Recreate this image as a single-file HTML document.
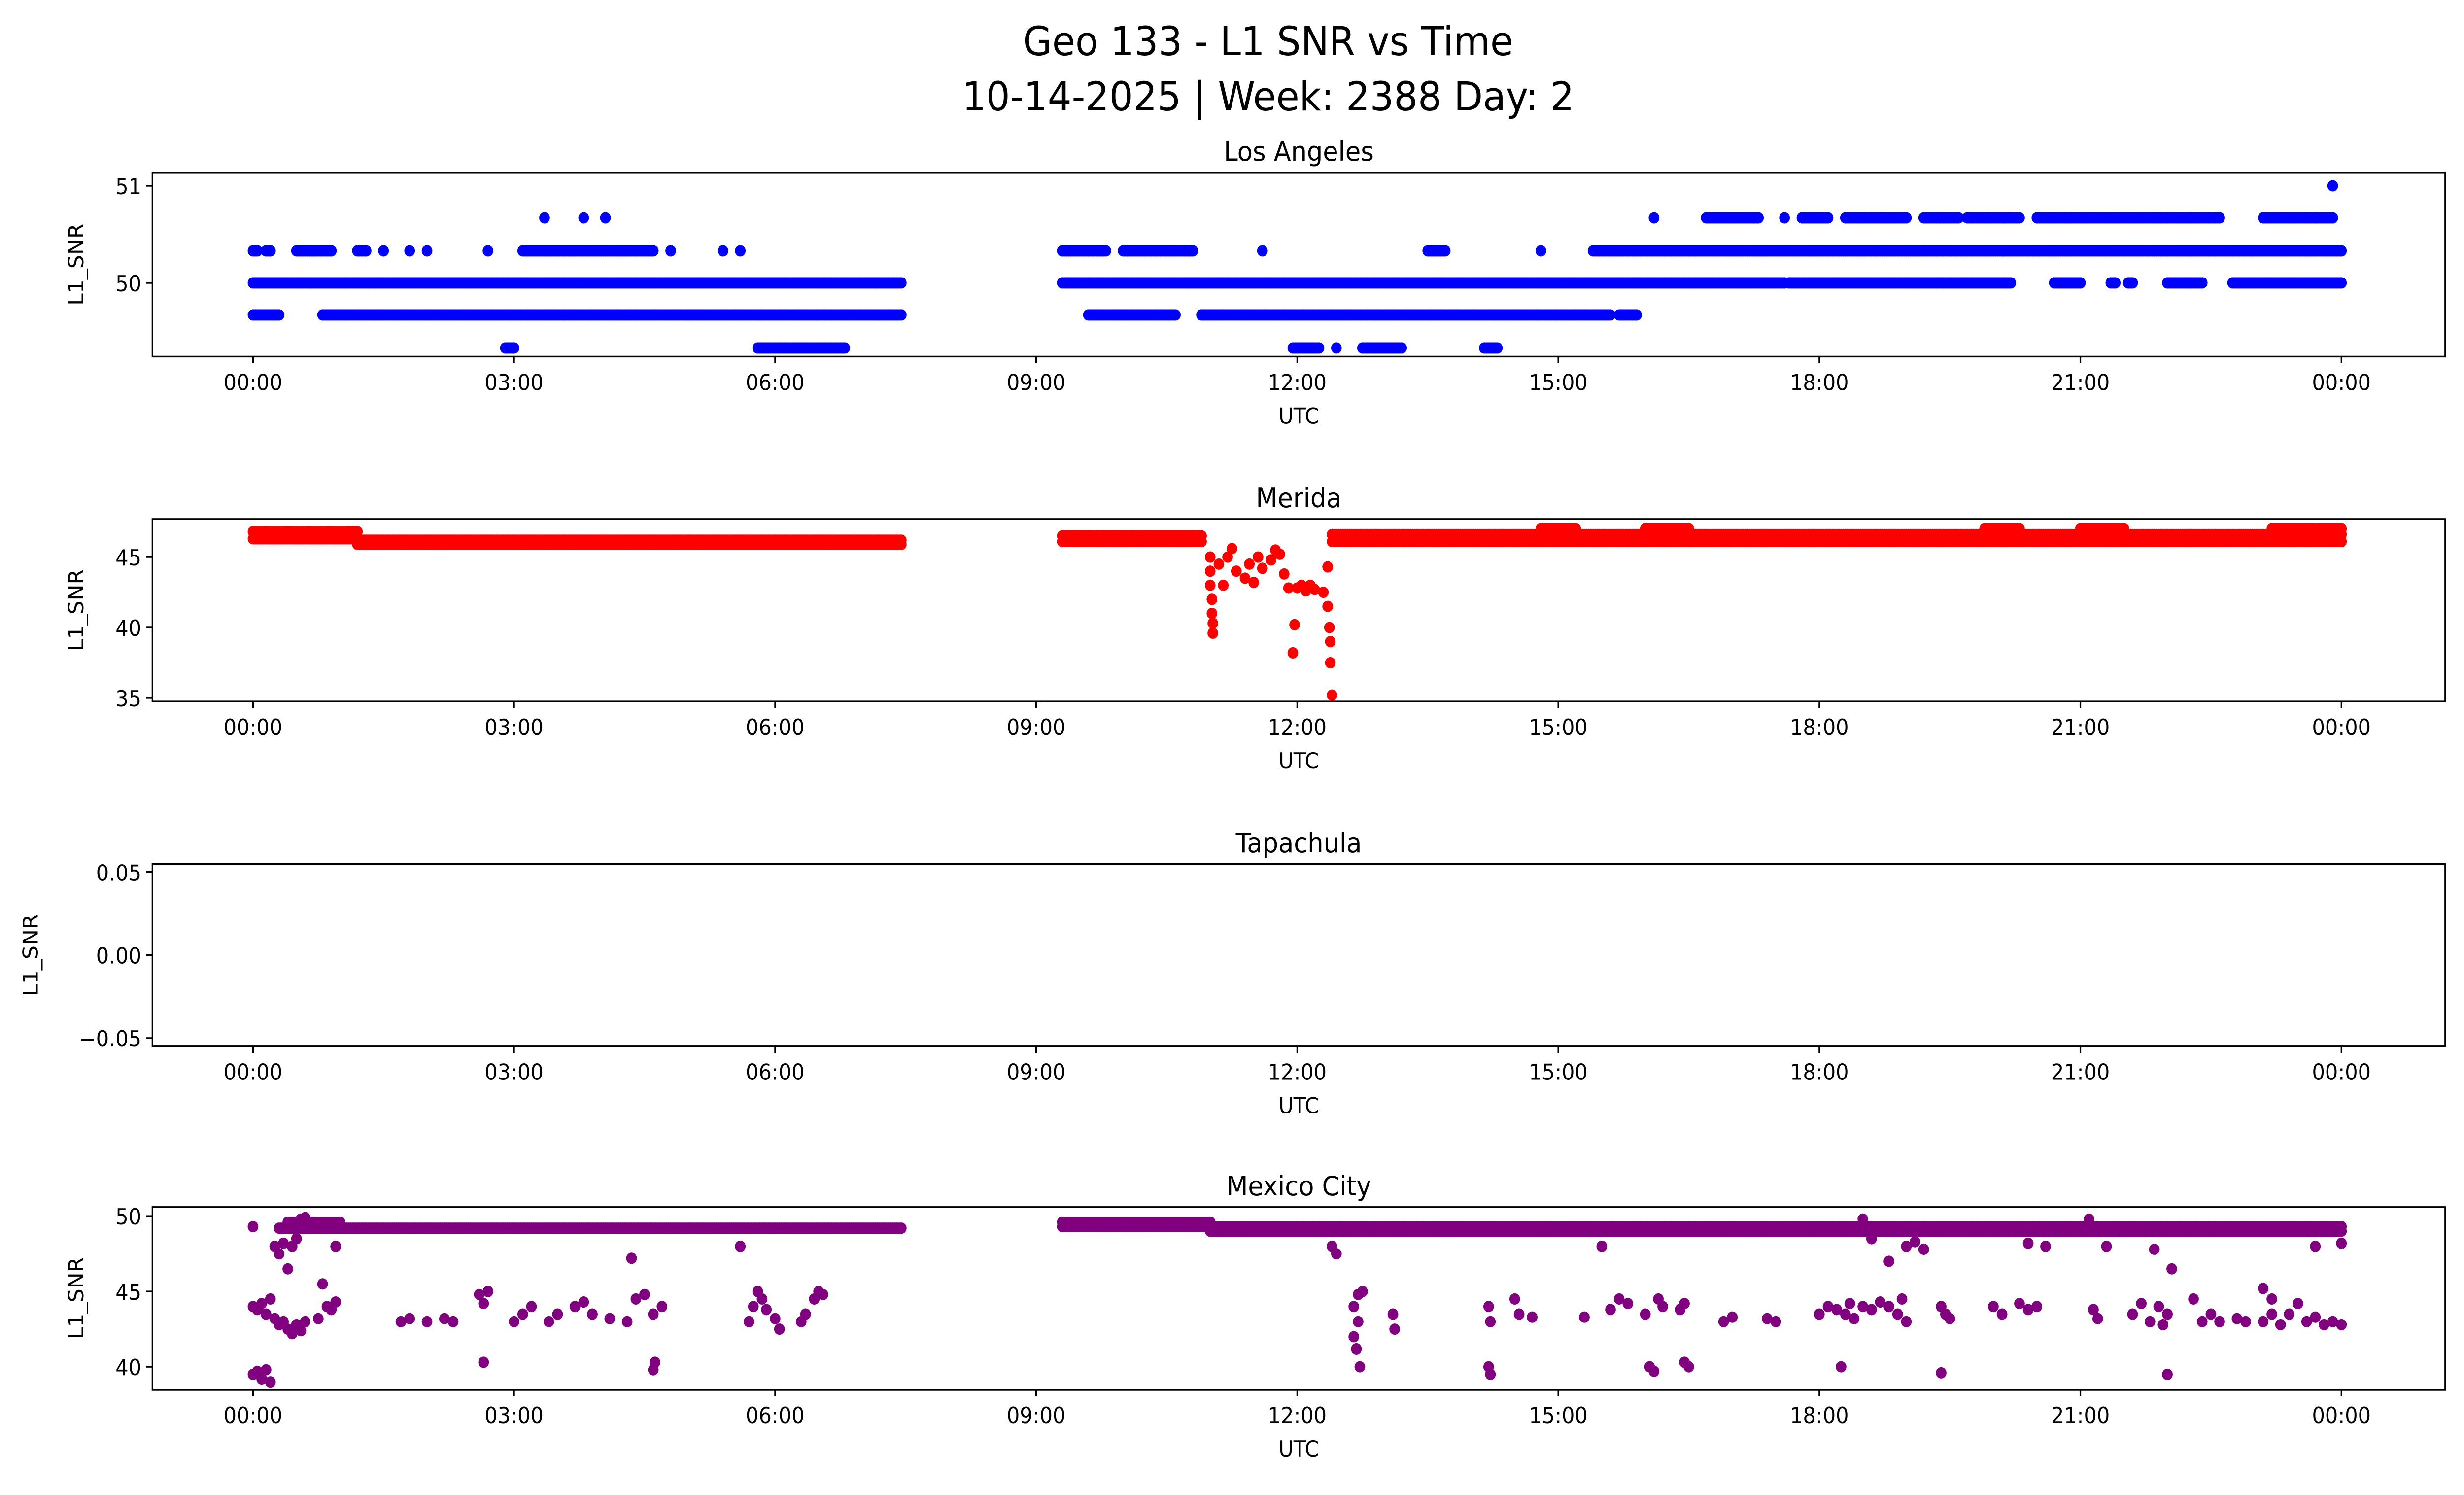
<!DOCTYPE html>
<html><head><meta charset="utf-8"><style>
html,body{margin:0;padding:0;background:#fff;width:100%;height:100%;overflow:hidden}
#wrap{width:100vw;height:100vh;overflow:hidden;position:relative}
svg{display:block;position:absolute;left:0;top:0;width:100vw;height:100vh}
text{font-family:"DejaVu Sans","Liberation Sans",sans-serif;fill:#000}
</style></head><body>
<div id="wrap">
<svg id="chart" viewBox="0 0 1568 893" preserveAspectRatio="none" xmlns="http://www.w3.org/2000/svg">
<rect width="1568" height="893" fill="#fff"/>
<text x="807" y="33" font-size="24" text-anchor="middle">Geo 133 - L1 SNR vs Time</text>
<text x="807" y="66" font-size="24" text-anchor="middle">10-14-2025 | Week: 2388 Day: 2</text>
<g id="plots"></g>
</svg>
</div>
<script>
const xTickHours=[0,3,6,9,12,15,18,21,24];
const xTickLabels=["00:00","03:00","06:00","09:00","12:00","15:00","18:00","21:00","00:00"];
const laRuns=[[0,7.45,50],[9.3,17.6,50],[17.65,20.2,50],[20.7,21.0,50],[21.35,21.4,50],[21.55,21.6,50],[22.0,22.4,50],[22.75,24,50],
[0,0.3,49.67],[0.8,7.45,49.67],[9.6,10.6,49.67],[10.9,15.6,49.67],[15.7,15.9,49.67],
[0,0.05,50.33],[0.15,0.2,50.33],[0.5,0.9,50.33],[1.2,1.3,50.33],[1.5,1.52,50.33],[1.8,1.82,50.33],[2.0,2.02,50.33],[2.7,2.72,50.33],[3.1,4.6,50.33],[4.8,4.82,50.33],[5.4,5.42,50.33],[5.6,5.62,50.33],[9.3,9.8,50.33],[10.0,10.8,50.33],[11.6,11.62,50.33],[13.5,13.7,50.33],[14.8,14.82,50.33],[15.4,24,50.33],
[3.35,3.37,50.67],[3.8,3.82,50.67],[4.05,4.07,50.67],[16.1,16.12,50.67],[16.7,17.3,50.67],[17.6,17.62,50.67],[17.8,18.1,50.67],[18.3,19.0,50.67],[19.2,19.6,50.67],[19.7,20.3,50.67],[20.5,22.6,50.67],[23.1,23.9,50.67],
[2.9,3.0,49.33],[5.8,6.8,49.33],[11.95,12.25,49.33],[12.45,12.47,49.33],[12.75,13.2,49.33],[14.15,14.3,49.33],[23.9,23.92,51]];
const meridaRuns=[[0,1.2,46.8],[0,1.2,46.3],[1.2,7.45,46.2],[1.2,7.45,45.9],[9.3,10.9,46.5],[9.3,10.9,46.1],[12.4,24,46.6],[12.4,24,46.1],[14.8,15.2,47],[16,16.5,47],[19.9,20.3,47],[21,21.5,47],[23.2,24,47]];
const meridaPoints=[[11.0,45],[11.0,44],[11.0,43],[11.02,42],[11.02,41],[11.03,40.3],[11.03,39.6],[11.1,44.5],[11.15,43],[11.2,45],[11.3,44],[11.4,43.5],[11.45,44.5],[11.5,43.2],[11.55,45],[11.6,44.2],[11.7,44.8],[11.8,45.2],[11.85,43.8],[11.9,42.8],[11.95,38.2],[11.97,40.2],[12.0,42.8],[12.05,43],[12.1,42.6],[12.15,43],[12.2,42.7],[12.3,42.5],[12.35,44.3],[12.35,41.5],[12.37,40],[12.38,37.5],[12.4,35.2],[12.38,39],[11.25,45.6],[11.75,45.5]];
const mexRuns=[[0.3,7.45,49.2],[0.4,1.0,49.6],[9.3,24,49.3],[9.3,11,49.6],[11,24,49.0]];
const mexPoints=[[0,39.5],[0.05,39.7],[0.1,39.2],[0.15,39.8],[0.2,39.0],[0,44],[0.05,43.8],[0.1,44.2],[0.15,43.5],[0.2,44.5],[0.25,43.2],[0.3,42.8],[0.35,43],[0.4,42.5],[0.45,42.2],[0.5,42.8],[0.55,42.4],[0.6,43],[0.25,48],[0.3,47.5],[0.35,48.2],[0.4,46.5],[0.45,48],[0.5,48.5],[0,49.3],[0.55,49.8],[0.8,45.5],[0.85,44],[0.9,43.8],[0.95,44.3],[0.75,43.2],[0.95,48],[1.7,43],[1.8,43.2],[2.0,43],[2.2,43.2],[2.3,43],[2.6,44.8],[2.65,44.2],[2.7,45],[2.65,40.3],[3.0,43],[3.1,43.5],[3.2,44],[3.4,43],[3.5,43.5],[3.7,44],[3.8,44.3],[3.9,43.5],[4.1,43.2],[4.3,43],[4.35,47.2],[4.4,44.5],[4.5,44.8],[4.6,43.5],[4.7,44],[4.6,39.8],[4.62,40.3],[5.6,48],[5.7,43],[5.75,44],[5.8,45],[5.85,44.5],[5.9,43.8],[6.0,43.2],[6.05,42.5],[6.3,43],[6.35,43.5],[6.45,44.5],[6.5,45],[6.55,44.8],
[12.4,48],[12.45,47.5],[12.65,44],[12.7,44.8],[12.75,45],[12.7,43],[12.68,41.2],[12.72,40],[12.65,42],[13.1,43.5],[13.12,42.5],[14.2,44],[14.22,43],[14.2,40],[14.22,39.5],[14.5,44.5],[14.55,43.5],[14.7,43.3],[15.3,43.3],[15.5,48],[15.6,43.8],[15.7,44.5],[15.8,44.2],[16.0,43.5],[16.05,40],[16.1,39.7],[16.15,44.5],[16.2,44],[16.4,43.8],[16.45,44.2],[16.5,40],[16.45,40.3],[16.9,43],[17.0,43.3],[17.4,43.2],[17.5,43],[18.0,43.5],[18.1,44],[18.2,43.8],[18.3,43.5],[18.35,44.2],[18.25,40],[18.4,43.2],[18.5,44],[18.6,43.8],[18.7,44.3],[18.8,44],[18.9,43.5],[18.95,44.5],[19.0,43],[18.6,48.5],[18.8,47],[19.0,48],[19.1,48.3],[19.2,47.8],[19.4,44],[19.45,43.5],[19.5,43.2],[19.4,39.6],[20.0,44],[20.1,43.5],[20.3,44.2],[20.4,43.8],[20.5,44],[20.4,48.2],[20.6,48],[21.15,43.8],[21.2,43.2],[21.3,48],[21.6,43.5],[21.7,44.2],[21.8,43],[21.9,44],[22.0,43.5],[21.95,42.8],[22.0,39.5],[22.05,46.5],[21.85,47.8],[22.3,44.5],[22.4,43],[22.5,43.5],[22.6,43],[22.8,43.2],[22.9,43],[23.1,45.2],[23.2,44.5],[23.1,43],[23.2,43.5],[23.3,42.8],[23.4,43.5],[23.5,44.2],[23.6,43],[23.7,43.3],[23.8,42.8],[23.9,43],[24,42.8],[24,48.2],[23.7,48],[18.5,49.8],[21.1,49.8],[0.6,49.9]];
const laTicks=[50,51], meridaTicks=[35,40,45], tapTicks=[-0.05,0,0.05], mexTicks=[40,45,50];
const tapTickLabels=["\u22120.05","0.00","0.05"];

const NS="http://www.w3.org/2000/svg";
const root=document.getElementById('plots');
const X0=97,X1=1556;
function xs(h){return 161+h*(1329/24);}
function mk(tag,attrs,parent){const e=document.createElementNS(NS,tag);for(const k in attrs)e.setAttribute(k,attrs[k]);(parent||root).appendChild(e);return e;}

function panel(name,title,top,bot,ymin,ymax,yticks,ylabels,color,runs,points,ylabX){
  const g=mk('g',{});
  
  
  const ys=v=>bot-(v-ymin)/(ymax-ymin)*(bot-top);
  const marks=mk('g',{fill:color},g);
  
  
  const pts=[];
  runs.forEach(r=>{for(let h=r[0];h<=r[1]+1e-9;h+=0.025)pts.push([h,r[2]]);});
  points.forEach(p=>pts.push(p));
  pts.forEach(p=>{const c=mk('circle',{cx:xs(p[0]),cy:ys(p[1]),r:3.4},marks);
    
    });
  const fr=mk('rect',{x:X0,y:top,width:X1-X0,height:bot-top,fill:'none',stroke:'#000','stroke-width':1},g);
  
  
  xTickHours.forEach((h,i)=>{const x=xs(h);mk('line',{x1:x,x2:x,y1:bot,y2:bot+4,stroke:'#000'},g);
    const t=mk('text',{x:x,y:bot+20,'font-size':13,'text-anchor':'middle'},g);t.textContent=xTickLabels[i];
    
    });
  yticks.forEach((v,i)=>{const y=ys(v);mk('line',{x1:X0-4,x2:X0,y1:y,y2:y,stroke:'#000'},g);
    const t=mk('text',{x:X0-7,y:y+5,'font-size':13,'text-anchor':'end'},g);t.textContent=ylabels[i];
    
    });
  const tt=mk('text',{x:(X0+X1)/2,y:top-7,'font-size':16,'text-anchor':'middle'},g);tt.textContent=title;
  
  
  const xl=mk('text',{x:(X0+X1)/2,y:bot+40,'font-size':13,'text-anchor':'middle'},g);xl.textContent='UTC';
  
  
  const cy=(top+bot)/2;
  const yl=mk('text',{x:ylabX,y:cy,'font-size':13,'text-anchor':'middle',transform:`rotate(-90 ${ylabX} ${cy})`},g);yl.textContent='L1_SNR';
  
  
}
panel('los-angeles','Los Angeles',103,213,49.241,51.138,laTicks,["50","51"],'#0000ff',laRuns,[],53);
panel('merida','Merida',310,419,34.75,47.7,meridaTicks,["35","40","45"],'#ff0000',meridaRuns,meridaPoints,53);
panel('tapachula','Tapachula',516,625,-0.055,0.055,tapTicks,tapTickLabels,'none',[],[],24);
panel('mexico-city','Mexico City',721,830,38.5,50.6,mexTicks,["40","45","50"],'#800080',mexRuns,mexPoints,53);
</script>
</body></html>
